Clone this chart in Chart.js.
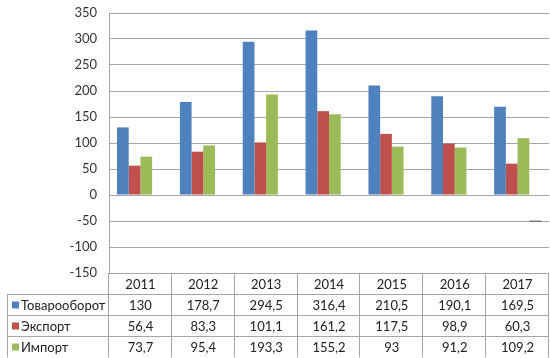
<!DOCTYPE html>
<html>
<head>
<meta charset="utf-8">
<script src="https://cdn.jsdelivr.net/npm/chart.js@4/dist/chart.umd.min.js"></script>
<style>
  html, body { margin: 0; padding: 0; background: #fff; }
  #chart { display: block; }
</style>
</head>
<body>
<canvas id="chart" width="550" height="358"></canvas>
<script>
// data
const years = ['2011', '2012', '2013', '2014', '2015', '2016', '2017'];
const turnover = [130, 178.7, 294.5, 316.4, 210.5, 190.1, 169.5];
const exportVals = [56.4, 83.3, 101.1, 161.2, 117.5, 98.9, 60.3];
const importVals = [73.7, 95.4, 193.3, 155.2, 93, 91.2, 109.2];
// fourth (unlabelled) series: empty except a thin mark near -50 in 2017
const extraVals = [null, null, null, null, null, null, [-50.8, -49.4]];
const seriesNames = ['Товарооборот', 'Экспорт', 'Импорт'];
const colors = ['#4f81bd', '#c0504d', '#9bbb59'];

const FONT = 'Lato, "Open Sans", sans-serif';
const lineColor = '#a6a6a6';

function fmt(v) {
    return String(v).replace('.', ',');
}

// draws the data table under the plot, using the x scale for columns
const dataTable = {
    id: 'dataTable',
    afterDraw(chart) {
        const ctx = chart.ctx;
        const area = chart.chartArea;
        const x = chart.scales.x;
        const rowH = 21;
        const top = area.bottom;
        const tableLeft = 7;
        const rows = [turnover, exportVals, importVals];

        const bounds = [area.left];
        for (let i = 0; i < years.length - 1; i++) {
            bounds.push((x.getPixelForValue(i) + x.getPixelForValue(i + 1)) / 2);
        }
        bounds.push(area.right);

        ctx.save();
        ctx.strokeStyle = lineColor;
        ctx.lineWidth = 1;
        ctx.beginPath();
        for (let r = 1; r <= rows.length; r++) {
            const y = Math.round(top + r * rowH) + 0.5;
            ctx.moveTo(tableLeft, y);
            ctx.lineTo(area.right, y);
        }
        bounds.forEach(function(b) {
            const bx = Math.round(b) - 0.5;
            ctx.moveTo(bx, top);
            ctx.lineTo(bx, top + rowH * (rows.length + 1) + 0.5);
        });
        ctx.moveTo(tableLeft + 0.5, top + rowH);
        ctx.lineTo(tableLeft + 0.5, top + rowH * (rows.length + 1) + 0.5);
        ctx.stroke();

        ctx.font = '13px ' + FONT;
        ctx.fillStyle = '#222';
        ctx.textBaseline = 'middle';
        ctx.textAlign = 'center';
        years.forEach(function(yr, i) {
            ctx.fillText(yr, x.getPixelForValue(i), top + rowH / 2 + 1);
        });
        rows.forEach(function(vals, r) {
            const cy = top + (r + 1) * rowH + rowH / 2 + 1;
            ctx.textAlign = 'center';
            vals.forEach(function(v, i) {
                ctx.fillText(fmt(v), x.getPixelForValue(i), cy);
            });
            ctx.fillStyle = colors[r];
            ctx.fillRect(12, cy - 4, 7, 7);
            ctx.fillStyle = '#222';
            ctx.textAlign = 'left';
            ctx.fillText(seriesNames[r], 21, cy);
        });
        ctx.restore();
    }
};

new Chart(document.getElementById('chart'), {
    type: 'bar',
    data: {
        labels: years,
        datasets: [
            { label: seriesNames[0], data: turnover, backgroundColor: colors[0] },
            { label: seriesNames[1], data: exportVals, backgroundColor: colors[1] },
            { label: seriesNames[2], data: importVals, backgroundColor: colors[2] },
            { label: '', data: extraVals, backgroundColor: '#333' }
        ]
    },
    options: {
        responsive: false,
        animation: false,
        events: [],
        layout: { padding: { top: 13, bottom: 85, right: 1, left: 0 } },
        datasets: {
            bar: { categoryPercentage: 0.745, barPercentage: 1 }
        },
        plugins: {
            legend: { display: false },
            tooltip: { enabled: false }
        },
        scales: {
            x: { display: false },
            y: {
                min: -150,
                max: 350,
                ticks: {
                    stepSize: 50,
                    padding: 12,
                    color: '#333',
                    font: { family: FONT, size: 13 }
                },
                grid: { color: lineColor, drawTicks: false },
                border: { color: lineColor },
                afterFit(scale) {
                    scale.width = 109;
                    scale.paddingTop = 0;
                    scale.paddingBottom = 0;
                }
            }
        }
    },
    plugins: [dataTable]
});
</script>
</body>
</html>
